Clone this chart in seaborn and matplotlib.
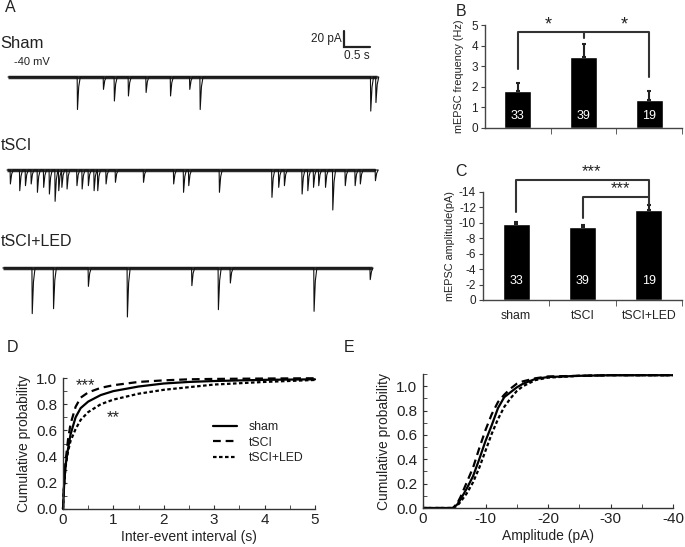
import numpy as np
import seaborn as sns
import matplotlib.pyplot as plt
from matplotlib.ticker import MultipleLocator

W, H = 685, 547

# --- data ---
groups = ['sham', 'tSCI', 'tSCI+LED']
n_cells = [33, 39, 19]
freq_mean = [1.80, 3.43, 1.36]        # Hz
freq_sem = [0.37, 0.63, 0.45]
amp_mean = [-9.9, -9.45, -11.65]      # pA
amp_sem = [0.25, 0.25, 0.62]

# panel D: cumulative inter-event interval
iei_t = [0, 0.02, 0.05, 0.1, 0.15, 0.25, 0.35, 0.5, 0.75, 1.0, 1.5, 2, 2.5, 3, 4, 5]
iei_sham = [0, 0.17, 0.33, 0.46, 0.57, 0.70, 0.77, 0.82, 0.87, 0.90, 0.935, 0.958, 0.97, 0.977, 0.986, 0.99]
iei_tsci = [0, 0.18, 0.36, 0.53, 0.65, 0.78, 0.85, 0.89, 0.925, 0.945, 0.97, 0.982, 0.99, 0.993, 0.996, 0.998]
iei_led = [0, 0.17, 0.32, 0.44, 0.52, 0.61, 0.68, 0.74, 0.80, 0.835, 0.88, 0.91, 0.93, 0.95, 0.97, 0.985]

# panel E: cumulative amplitude
amp_x = [0, -4.8, -5.5, -6, -7, -8, -9, -10, -11, -12, -13, -14, -15, -16, -18, -20, -25, -30, -40]
amp_sham = [0, 0, 0.03, 0.07, 0.16, 0.26, 0.40, 0.55, 0.68, 0.82, 0.91, 0.95, 0.99, 1.02, 1.06, 1.075, 1.085, 1.09, 1.09]
amp_tsci = [0, 0, 0.04, 0.09, 0.21, 0.33, 0.49, 0.64, 0.77, 0.87, 0.93, 0.98, 1.02, 1.04, 1.065, 1.08, 1.085, 1.09, 1.09]
amp_led = [0, 0, 0.02, 0.05, 0.12, 0.21, 0.33, 0.47, 0.61, 0.73, 0.83, 0.90, 0.96, 1.00, 1.05, 1.07, 1.085, 1.09, 1.09]

# panel A: example traces, events (time s, amplitude pA)
sham_ev_t = [1.33, 1.83, 2.04, 2.31, 2.65, 3.12, 3.49, 3.69, 6.97, 7.07]
sham_ev_a = [42, 16, 31, 24.5, 20, 24.5, 16, 42, 44, 33]
tsci_ev_t = [0.04, 0.22, 0.33, 0.44, 0.56, 0.68, 0.79, 0.90, 0.97, 1.03, 1.13, 1.32, 1.42, 1.54, 1.65,
             1.72, 1.88, 2.06, 2.60, 3.18, 3.37, 3.47, 4.06, 5.07, 5.20, 5.31, 5.65, 5.76, 5.87, 5.97,
             6.10, 6.24, 6.48, 6.67, 6.77, 7.06]
tsci_ev_a = [18, 26.7, 20.2, 18, 28.8, 22.4, 31, 40.4, 26.7, 22.4, 24.5, 20.2, 24.5, 20.2, 26.7,
             26.7, 18, 15.9, 15.9, 18, 28.8, 20.2, 28.8, 35.3, 22.4, 20.2, 31, 26.7, 22.4, 20.2,
             22.4, 51.6, 20.2, 20.2, 18, 13.8]
led_ev_t = [0.46, 0.87, 1.54, 2.29, 3.53, 4.04, 4.27, 5.88, 6.96]
led_ev_a = [58.9, 52.5, 23.7, 63.2, 22.8, 53.8, 19.4, 55.9, 15]

sns.set_style('ticks')
plt.rcParams['font.family'] = ['Liberation Sans', 'DejaVu Sans']
plt.rcParams['axes.unicode_minus'] = False
ink = '#222222'

fig = plt.figure(figsize=(W / 100, H / 100), dpi=100)


def box(l, t, r, b):
    return [l / W, 1 - b / H, (r - l) / W, (b - t) / H]


def ftext(x, y, s, **kw):
    kw.setdefault('color', ink)
    fig.text(x / W, 1 - y / H, s, **kw)


def build_trace(t0, t1, ev_t, ev_a, offset):
    xs, ys = [t0], [offset]
    for t, a in sorted(zip(ev_t, ev_a)):
        xs += [t, t + 0.006, t + 0.03, t + 0.06]
        ys += [offset, offset - a, offset - 0.3 * a, offset]
    xs.append(t1)
    ys.append(offset)
    return xs, ys


# ---------------- A ----------------
axA = fig.add_axes(box(0, 20, 390, 330))
axA.set_xlim(-8 / 52, 382 / 52)
axA.set_ylim(-326.4, 73.5)
axA.axis('off')
for (t0, t1, ev_t, ev_a, off) in [(0, 7.1, sham_ev_t, sham_ev_a, 0),
                                  (-0.02, 7.06, tsci_ev_t, tsci_ev_a, -120),
                                  (-0.1, 7.0, led_ev_t, led_ev_a, -246.4)]:
    axA.plot([t0, t1], [off, off], color='#2a2a2a', lw=2.5, solid_capstyle='butt')
    xs, ys = build_trace(t0, t1, ev_t, ev_a, off)
    sns.lineplot(x=xs, y=ys, sort=False, estimator=None, ax=axA, color='#111111', lw=0.8)
# scale bar 20 pA / 0.5 s
axA.plot([6.46, 6.46, 6.96], [59.3, 39.1, 39.1], color=ink, lw=1.6, solid_joinstyle='miter')
ftext(342, 39, '20 pA', fontsize=8.5, ha='right', va='center')
ftext(357, 56, '0.5 s', fontsize=8.5, ha='center', va='center')
ftext(0, 44, 'Sham', fontsize=12, va='center')
ftext(14, 62, '-40 mV', fontsize=8, va='center')
ftext(1, 145, 'tSCI', fontsize=11.5, va='center')
ftext(1, 241, 'tSCI+LED', fontsize=11.5, va='center')

# panel letters
for (x, y, s) in [(10, 8, 'A'), (461, 12, 'B'), (461, 172, 'C'), (12, 347, 'D'), (349, 348, 'E')]:
    ftext(x, y, s, fontsize=11.5, ha='center', va='center')


def style_bar_axis(ax):
    sns.despine(ax=ax)
    for s in ['left', 'bottom']:
        ax.spines[s].set_color('#444444')
        ax.spines[s].set_linewidth(1)
    ax.set_xlim(-0.5, 2.5)
    ax.set_xticks([0, 1, 2])
    ax.xaxis.set_minor_locator(plt.FixedLocator([0.5, 1.5, 2.5]))
    ax.tick_params(axis='x', which='major', length=0)
    ax.tick_params(axis='x', which='minor', length=4, color='#444444')
    ax.tick_params(axis='y', length=3, color='#444444', labelsize=8.5, labelcolor=ink, pad=2)


# ---------------- B ----------------
axB = fig.add_axes(box(485, 25, 682, 128))
sns.barplot(x=groups, y=freq_mean, color='black', saturation=1, width=0.41, errorbar=None, ax=axB)
axB.errorbar(range(3), freq_mean, yerr=[np.zeros(3), freq_sem], fmt='none', ecolor=ink,
             elinewidth=1.5, capsize=1.5, capthick=1.5)
axB.set_ylim(0, 5)
axB.set_yticks(range(6))
style_bar_axis(axB)
axB.set_xticklabels(['', '', ''])
axB.set_ylabel('mEPSC frequency (Hz)', fontsize=7.8, color=ink, labelpad=5)
for i, n in enumerate(n_cells):
    axB.text(i, 0.58, str(n), color='white', fontsize=9, ha='center', va='center')
axB.plot([0, 0, 2, 2], [2.86, 4.67, 4.67, 2.49], color='#333333', lw=1.5, clip_on=False)
axB.plot([1, 1], [4.67, 4.38], color='#333333', lw=1.5, clip_on=False)
axB.text(0.47, 5.0, '*', fontsize=13, ha='center', va='center', color=ink)
axB.text(1.62, 5.0, '*', fontsize=13, ha='center', va='center', color=ink)

# ---------------- C ----------------
axC = fig.add_axes(box(483, 192, 682, 300))
sns.barplot(x=groups, y=amp_mean, color='black', saturation=1, width=0.41, errorbar=None, ax=axC)
axC.errorbar(range(3), amp_mean, yerr=[amp_sem, np.zeros(3)], fmt='none', ecolor=ink,
             elinewidth=1.5, capsize=1.5, capthick=1.5)
axC.set_ylim(0, -14)
axC.set_yticks(range(0, -15, -2))
style_bar_axis(axC)
axC.set_xticklabels(groups, fontsize=8.8, color=ink)
axC.tick_params(axis='x', which='major', pad=7)
axC.set_ylabel('mEPSC amplitude(pA)', fontsize=7.8, color=ink, labelpad=3)
for i, n in enumerate(n_cells):
    axC.text(i, -2.46, str(n), color='white', fontsize=9, ha='center', va='center')
axC.plot([0, 0, 2, 2], [-11.45, -15.55, -15.55, -13.3], color='#333333', lw=1.5, clip_on=False)
axC.plot([1, 1, 2, 2], [-10.6, -13.3, -13.3, -12.5], color='#333333', lw=1.5, clip_on=False)
axC.text(1.13, -16.7, '***', fontsize=12, ha='center', va='center', color=ink)
axC.text(1.58, -14.4, '***', fontsize=12, ha='center', va='center', color=ink)


def style_cdf_axis(ax):
    sns.despine(ax=ax)
    for s in ['left', 'bottom']:
        ax.spines[s].set_color('#333333')
        ax.spines[s].set_linewidth(1)
    ax.yaxis.set_major_locator(MultipleLocator(0.2))
    ax.yaxis.set_minor_locator(MultipleLocator(0.1))
    ax.yaxis.set_major_formatter(plt.FormatStrFormatter('%.1f'))
    ax.tick_params(which='both', direction='in', length=3, color='#333333',
                   labelsize=11, labelcolor=ink)
    ax.tick_params(axis='y', pad=4)
    ax.tick_params(axis='x', pad=3)


styles = ['-', (0, (3.5, 2.2)), (0, (1.6, 1.1))]

# ---------------- D ----------------
axD = fig.add_axes(box(63, 378, 315, 509))
for g, ys, ls in zip(groups, [iei_sham, iei_tsci, iei_led], styles):
    sns.lineplot(x=iei_t, y=ys, ax=axD, color='black', lw=1.6, linestyle=ls, label=g, clip_on=False)
axD.set_xlim(0, 5)
axD.set_ylim(0, 1.0)
axD.xaxis.set_major_locator(MultipleLocator(1))
axD.xaxis.set_minor_locator(MultipleLocator(0.5))
style_cdf_axis(axD)
axD.set_xlabel('Inter-event interval (s)', fontsize=10, color=ink, labelpad=2)
axD.set_ylabel('Cumulative probability', fontsize=10, color=ink, labelpad=4)
h, l = axD.get_legend_handles_labels()
axD.legend(h, l, loc='upper left', bbox_to_anchor=(213 / W, 1 - 421 / H), bbox_transform=fig.transFigure,
           frameon=False, fontsize=8.8, handlelength=2.0, handletextpad=0.9, labelspacing=0.3,
           borderpad=0, borderaxespad=0, labelcolor=ink)
axD.text(0.45, 0.945, '***', fontsize=12, ha='center', va='center', color=ink)
axD.text(1.0, 0.70, '**', fontsize=12, ha='center', va='center', color=ink)

# ---------------- E ----------------
axE = fig.add_axes(box(423, 374, 673, 508))
for g, ys, ls in zip(groups, [amp_sham, amp_tsci, amp_led], styles):
    sns.lineplot(x=amp_x, y=ys, ax=axE, color='black', lw=1.6, linestyle=ls, legend=False, sort=False)
axE.set_xlim(0, -40)
axE.set_ylim(0, 1.1)
axE.xaxis.set_major_locator(MultipleLocator(10))
axE.xaxis.set_minor_locator(MultipleLocator(5))
style_cdf_axis(axE)
axE.set_yticks([0, 0.2, 0.4, 0.6, 0.8, 1.0])
axE.set_xlabel('Amplitude (pA)', fontsize=10, color=ink, labelpad=2)
axE.set_ylabel('Cumulative probability', fontsize=10, color=ink, labelpad=4)

fig.savefig('out.png', dpi=100)
